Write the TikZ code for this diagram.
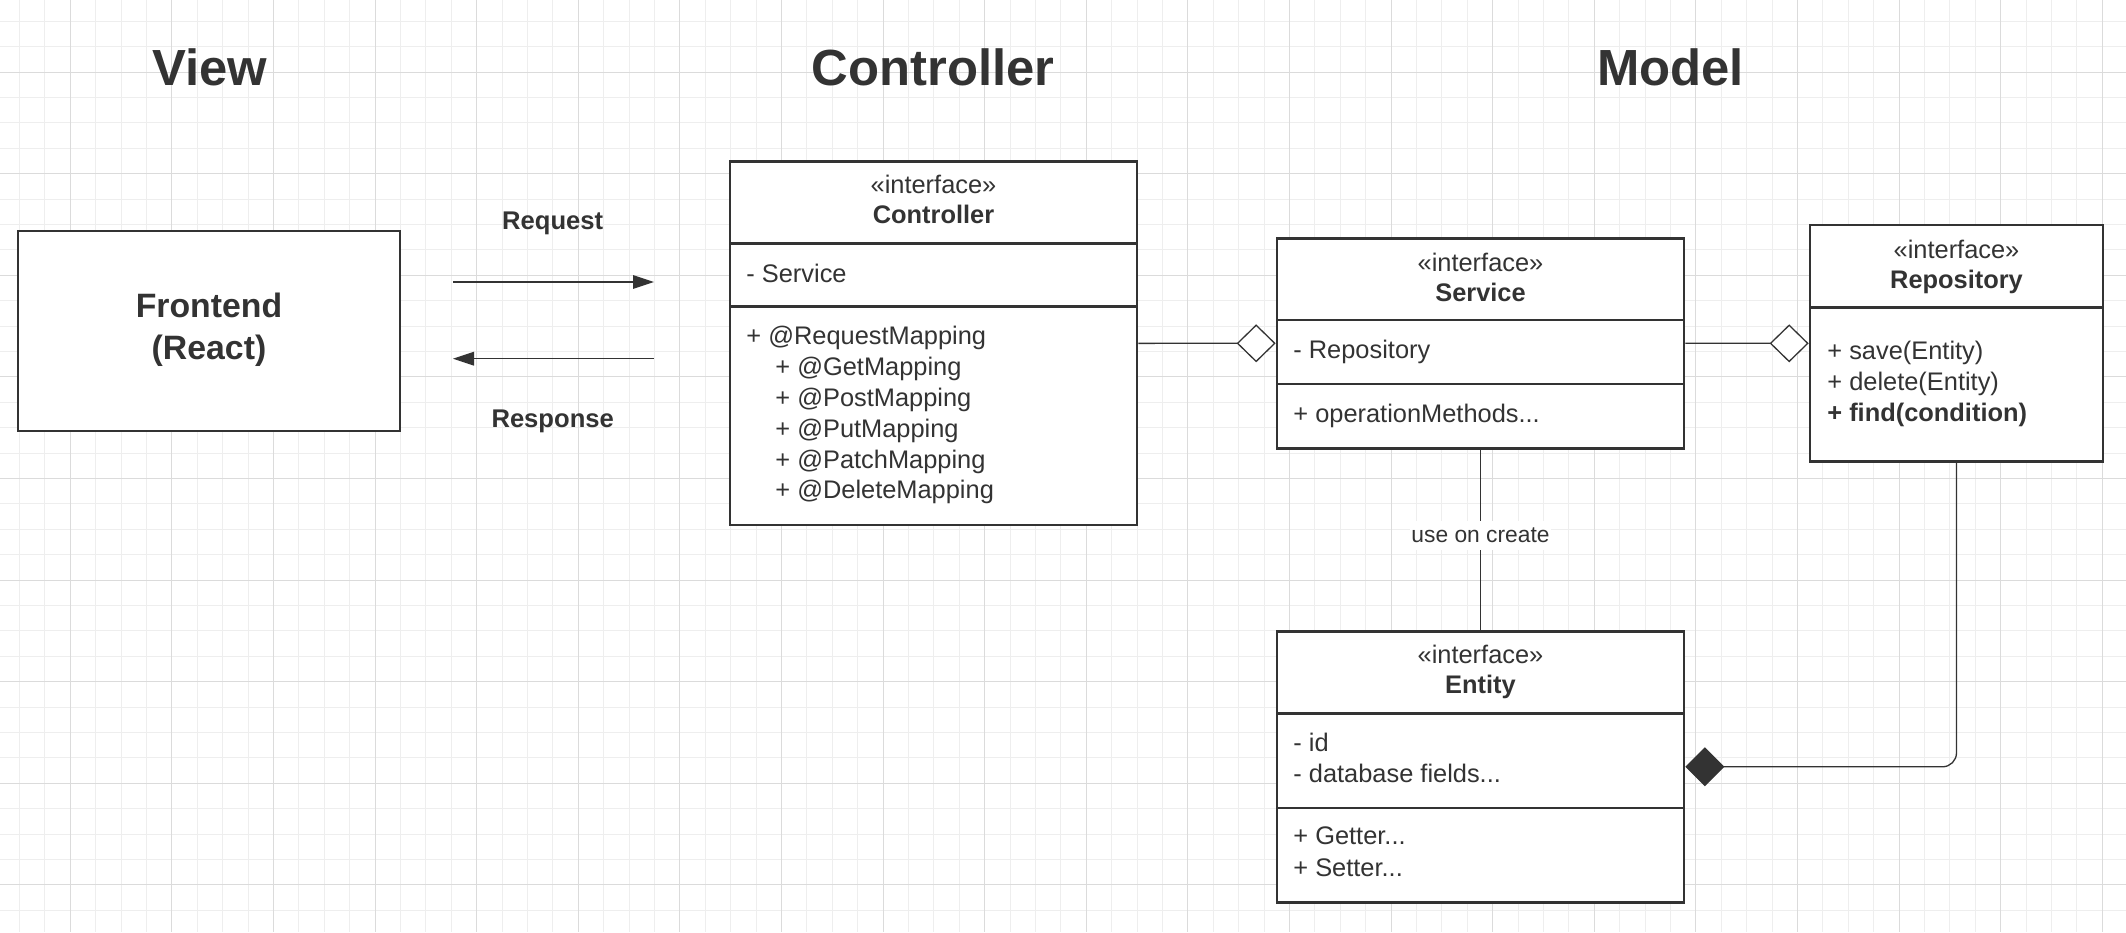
\documentclass[tikz,border=0pt]{standalone}
\usepackage{fontspec}
\setmainfont{Liberation Sans}
\usetikzlibrary{arrows.meta,fit}
\definecolor{ink}{HTML}{333333}
\definecolor{gmin}{HTML}{EEEEEE}
\definecolor{gmaj}{HTML}{DBDBDB}
\begin{document}
\begin{tikzpicture}[x=0.5pt,y=-0.5pt,
  umlbox/.style={draw=ink, line width=1.35pt, fill=white, inner sep=0pt},
  divider/.style={draw=ink, line width=1.35pt},
  conn/.style={draw=ink, line width=0.65pt},
  gminor/.style={draw=gmin, line width=0.5pt},
  gmajor/.style={draw=gmaj, line width=0.5pt},
  body/.style={inner sep=0pt, text=ink, font=\fontsize{12.7pt}{15.4pt}\selectfont, align=left, anchor=north west},
  body2/.style={body, font=\fontsize{12.7pt}{15.6pt}\selectfont},
  head/.style={inner sep=0pt, text=ink, font=\fontsize{12.7pt}{15pt}\selectfont, align=center, anchor=north},
  bigtitle/.style={inner sep=0pt, text=ink, font=\fontsize{25.4pt}{30pt}\selectfont\bfseries, anchor=base},
  msglbl/.style={inner sep=0pt, text=ink, font=\fontsize{12.8pt}{15pt}\selectfont\bfseries, anchor=base},
  midlbl/.style={fill=white, inner xsep=0.5pt, inner ysep=3.5pt, text=ink, font=\fontsize{11.4pt}{13pt}\selectfont},
  reqarrow/.style={conn, -{Triangle[length=10.5pt,width=6.8pt]}},
  aggr/.style={conn, -{Diamond[length=19.5pt,width=19pt,fill=white]}},
  compo/.style={conn, rounded corners=7pt, -{Diamond[length=19.5pt,width=19.5pt]}}
]
\useasboundingbox (0,0) rectangle (2126,932);
\fill[white] (0,0) rectangle (2126,932);
% grid
\foreach \k in {0,...,82} { \draw[gminor] ({19.5+25.4*\k},0) -- ({19.5+25.4*\k},932); }
\foreach \k in {0,...,35} { \draw[gminor] (0,{21.3+25.4*\k}) -- (2126,{21.3+25.4*\k}); }
\foreach \k in {0,...,20} { \draw[gmajor] ({70.3+101.6*\k},0) -- ({70.3+101.6*\k},932); }
\foreach \k in {0,...,8} { \draw[gmajor] (0,{72.1+101.6*\k}) -- (2126,{72.1+101.6*\k}); }

% titles
\node[bigtitle] (tView) at (210,85) {View};
\node[bigtitle] (tCtrl) at (933,85) {Controller};
\node[bigtitle] (tModel) at (1670.5,85) {Model};

% box corners
\coordinate (f1) at (18,231);     \coordinate (f2) at (400,431);
\coordinate (c1) at (730,161.7);  \coordinate (c2) at (1137,525);
\coordinate (s1) at (1277,238.3); \coordinate (s2) at (1684,448.3);
\coordinate (r1) at (1810,225);   \coordinate (r2) at (2103,461.7);
\coordinate (e1) at (1277,631.3); \coordinate (e2) at (1684,902.3);

\node[umlbox, fit=(f1)(f2)] (front) {};
\node[umlbox, fit=(c1)(c2)] (ctrl) {};
\node[umlbox, fit=(s1)(s2)] (svc) {};
\node[umlbox, fit=(r1)(r2)] (repo) {};
\node[umlbox, fit=(e1)(e2)] (ent) {};

% dividers
\draw[divider] (730,243.3) -- (1137,243.3);
\draw[divider] (730,306.7) -- (1137,306.7);
\draw[divider] (1277,320) -- (1684,320);
\draw[divider] (1277,384) -- (1684,384);
\draw[divider] (1810,307.3) -- (2103,307.3);
\draw[divider] (1277,713.7) -- (1684,713.7);
\draw[divider] (1277,808) -- (1684,808);

% frontend
\node[inner sep=0pt, text=ink, font=\fontsize{16.9pt}{21pt}\selectfont\bfseries, align=center] (ftxt) at ([yshift=0.5pt]front.center) {Frontend\\(React)};

% controller
\node[head] (ctrlhead) at (933.5,175) {«interface»\\\textbf{Controller}};
\node[body] (ctrlattr) at (746,263.3) {- Service};
\node[body] (ctrlmeth) at (746,326) {+ @RequestMapping\\
\hspace*{14.5pt}+ @GetMapping\\
\hspace*{14.5pt}+ @PostMapping\\
\hspace*{14.5pt}+ @PutMapping\\
\hspace*{14.5pt}+ @PatchMapping\\
\hspace*{14.5pt}+ @DeleteMapping};

% service
\node[head] (svchead) at (1480.5,252.7) {«interface»\\\textbf{Service}};
\node[body] (svcattr) at (1293,340) {- Repository};
\node[body] (svcmeth) at (1293,403.3) {+ operationMethods...};

% repository
\node[head] (repohead) at (1956.5,239.3) {«interface»\\\textbf{Repository}};
\node[body] (repometh) at (1827,341) {+ save(Entity)\\+ delete(Entity)\\\textbf{+ find(condition)}};

% entity
\node[head] (enthead) at (1480.5,645) {«interface»\\\textbf{Entity}};
\node[body2] (entattr) at (1293,732.7) {- id\\- database fields...};
\node[body2] (entmeth) at (1293,826.7) {+ Getter...\\+ Setter...};

% request / response
\coordinate (rq1) at (453,282);   \coordinate (rq2) at (654,282);
\coordinate (rs1) at (654,358.7); \coordinate (rs2) at (453,358.7);
\draw[reqarrow] (rq1) -- (rq2);
\draw[reqarrow] (rs1) -- (rs2);
\node[msglbl] (reqlbl) at (552.7,229.3) {Request};
\node[msglbl] (reslbl) at (552.7,427.7) {Response};

% relations
\draw[aggr] (ctrl.east) -- (svc.west);
\draw[aggr] (svc.east) -- (repo.west);
\draw[conn] (svc.south) -- node[midlbl, pos=0.474] (uselbl) {use on create} (ent.north);
\draw[compo] (repo.south) |- (ent.east);
\end{tikzpicture}
\end{document}
